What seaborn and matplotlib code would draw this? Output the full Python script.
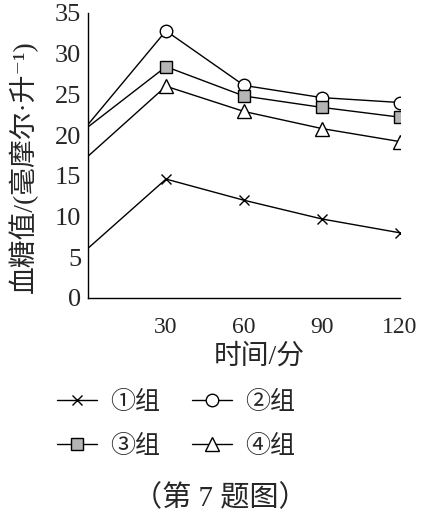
import matplotlib.pyplot as plt
import pandas as pd
import seaborn as sns

TIMES = [0, 30, 60, 90, 120]
GROUPS = ["①组", "②组", "③组", "④组"]
GROUP1 = [6.1, 14.6, 12.0, 9.7, 8.0]
GROUP2 = [21.3, 32.8, 26.1, 24.6, 24.0]
GROUP3 = [21.0, 28.4, 24.8, 23.4, 22.2]
GROUP4 = [17.4, 26.0, 22.9, 20.8, 19.2]
X_TICKS = [30, 60, 90, 120]
Y_TICKS = [0, 5, 10, 15, 20, 25, 30, 35]

MARKERS = {"①组": ("x", "black", 7), "②组": ("o", "white", 9),
           "③组": ("s", "#b5b5b5", 9), "④组": ("^", "white", 10)}

sns.set_style("white")
plt.rcParams["font.family"] = ["Liberation Serif", "Noto Sans CJK SC", "DejaVu Serif"]
plt.rcParams["font.size"] = 15


def main():
    rows = []
    for name, vals in zip(GROUPS, [GROUP1, GROUP2, GROUP3, GROUP4]):
        for t, v in zip(TIMES, vals):
            rows.append({"group": name, "time": t, "value": v})
    df = pd.DataFrame(rows)

    fig = plt.figure(figsize=(4.4, 5.15), dpi=100)
    ax = fig.add_axes([0.2, 0.4214, 0.709, 0.5535])

    for name in GROUPS:
        marker, face, size = MARKERS[name]
        sub = df[df["group"] == name]
        # no marker at the starting point on the axis
        sns.lineplot(data=sub, x="time", y="value", ax=ax, color="black", linewidth=1.0,
                     marker=marker, markersize=size, markerfacecolor=face,
                     markeredgecolor="black", markeredgewidth=1.0,
                     markevery=[1, 2, 3, 4], label=name, legend=False)

    ax.set_xlim(0, 120)
    ax.set_ylim(0, 35)
    ax.set_xticks(X_TICKS)
    ax.set_yticks(Y_TICKS)
    sns.despine(ax=ax)
    for s in ["left", "bottom"]:
        ax.spines[s].set_color("black")
        ax.spines[s].set_linewidth(1.0)
    ax.tick_params(axis="x", direction="in", length=5, width=1, color="black", pad=14, labelsize=17)
    ax.tick_params(axis="y", length=0, pad=5, labelsize=19)

    ax.set_xlabel("时间/分", fontsize=20)
    ax.xaxis.set_label_coords(0.55, -0.16)
    ax.set_ylabel("血糖值/(毫摩尔·升⁻¹)", fontsize=20)
    ax.yaxis.set_label_coords(-0.16, 0.46)

    handles, labels = ax.get_legend_handles_labels()
    order = [0, 2, 1, 3]  # fill row by row
    fig.legend([handles[i] for i in order], [labels[i] for i in order], ncol=2,
               frameon=False, loc="center", bbox_to_anchor=(0.40, 0.176), fontsize=18,
               handlelength=1.6, columnspacing=1.3, labelspacing=0.85, handletextpad=0.5)

    fig.text(0.5, 0.033, "（第 7 题图）", ha="center", va="center", fontsize=21)

    fig.savefig("out.png", dpi=100)


if __name__ == "__main__":
    main()
